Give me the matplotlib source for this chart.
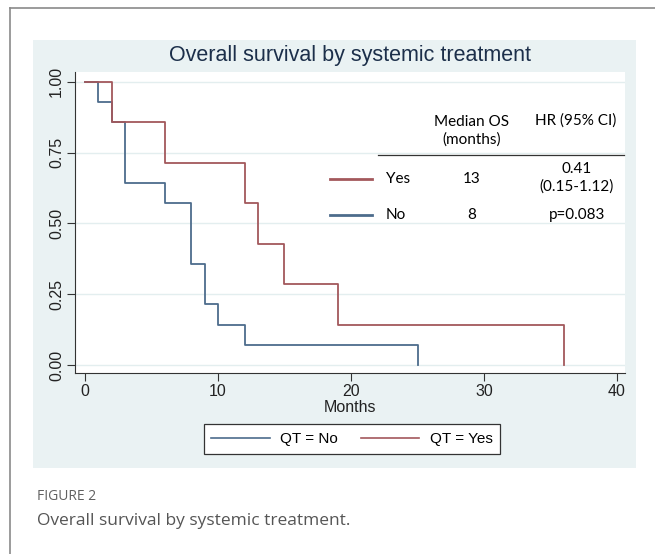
import matplotlib
matplotlib.use('Agg')
import matplotlib.pyplot as plt
from matplotlib.patches import Rectangle
from matplotlib.lines import Line2D

# Kaplan-Meier step data
yes_months = [0, 2, 6, 12, 13, 15, 19, 36]
yes_surv = [1.0, 0.857, 0.714, 0.571, 0.429, 0.286, 0.143, 0.0]
no_months = [0, 1, 2, 3, 6, 8, 9, 10, 12, 25]
no_surv = [1.0, 0.929, 0.857, 0.643, 0.571, 0.357, 0.214, 0.143, 0.071, 0.0]

y_ticks = [0.0, 0.25, 0.5, 0.75, 1.0]
y_labels = ['0.00', '0.25', '0.50', '0.75', '1.00']
x_ticks = [0, 10, 20, 30, 40]

table_header = ['Median OS\n(months)', 'HR (95% CI)']
table_groups = ['Yes', 'No']
table_median = ['13', '8']
table_hr = ['0.41\n(0.15-1.12)', 'p=0.083']

red = '#a3585c'
blue = '#4d6c8c'
bg = '#eaf2f3'
W, H = 655, 554


def fx(px):
    return px / W


def fy(py):
    return 1 - py / H


fig = plt.figure(figsize=(6.55, 5.54), dpi=100)
plt.rcParams['font.family'] = ['Liberation Sans', 'DejaVu Sans']

# page frame and stata panel
fig.add_artist(Line2D([fx(10), fx(10)], [0, fy(8)], color='#8a8a8a', lw=1.2))
fig.add_artist(Line2D([fx(10), 1], [fy(8), fy(8)], color='#8a8a8a', lw=1.2))
fig.add_artist(Rectangle((fx(33), fy(468)), fx(636) - fx(33), fy(40) - fy(468),
                         transform=fig.transFigure, facecolor=bg, edgecolor='none', zorder=-5))

ax = fig.add_axes([fx(75), fy(373), fx(625) - fx(75), fy(72) - fy(373)])
ax.set_zorder(2)
ax.set_facecolor('white')
ax.step(no_months, no_surv, where='post', color=blue, lw=1.3)
ax.step(yes_months, yes_surv, where='post', color=red, lw=1.3)
ax.set_xlim(-0.75, 40.6)
ax.set_ylim(-0.028, 1.035)
for v in y_ticks:
    ax.axhline(v, color='#e3eeef', lw=1, zorder=0)
ax.set_yticks(y_ticks)
ax.set_yticklabels(y_labels, rotation=90, va='center', fontsize=11.5, color='#222222')
ax.set_xticks(x_ticks)
ax.set_xticklabels([str(t) for t in x_ticks], fontsize=11.5, color='#222222')
ax.tick_params(length=6, color='#333333', width=0.8, pad=2)
ax.spines['top'].set_visible(False)
ax.spines['right'].set_visible(False)
ax.spines['left'].set_color('#333333')
ax.spines['bottom'].set_color('#333333')
ax.set_xlabel('Months', fontsize=11.5, color='#222222', labelpad=1)

fig.text(fx(350), fy(56), 'Overall survival by systemic treatment', ha='center', va='center',
         fontsize=15.5, color='#1c2f4a')

# inset table
tfont = ['Lato', 'DejaVu Sans']
fs = 11
fig.add_artist(Line2D([fx(378), fx(624)], [fy(155), fy(155)], color='#333333', lw=0.9, zorder=5))
fig.text(fx(472), fy(131), table_header[0], ha='center', va='center', fontsize=fs,
         family=tfont, linespacing=1.25, zorder=5)
fig.text(fx(576), fy(121), table_header[1], ha='center', va='center', fontsize=fs,
         family=tfont, zorder=5)
row_y = [179, 215]
row_col = [red, blue]
for i in range(2):
    fig.add_artist(Line2D([fx(330), fx(372)], [fy(row_y[i]), fy(row_y[i])], color=row_col[i],
                          lw=2, zorder=5))
    fig.text(fx(386), fy(row_y[i]), table_groups[i], ha='left', va='center', fontsize=fs,
             family=tfont, zorder=5)
    fig.text(fx(472), fy(row_y[i]), table_median[i], ha='center', va='center', fontsize=fs,
             family=tfont, zorder=5)
hr_y = [178, 215]
fig.text(fx(577), fy(hr_y[0]), table_hr[0], ha='center', va='center', fontsize=fs,
         family=tfont, linespacing=1.35, zorder=5)
fig.text(fx(577), fy(hr_y[1]), table_hr[1], ha='center', va='center', fontsize=fs,
         family=tfont, zorder=5)

# bottom legend
handles = [Line2D([], [], color=blue, lw=1.2), Line2D([], [], color=red, lw=1.2)]
leg = fig.legend(handles, ['QT = No', 'QT = Yes'], loc='center', bbox_to_anchor=(fx(352), fy(439)),
                 ncol=2, fontsize=11, frameon=True, fancybox=False, handlelength=3.8,
                 columnspacing=1.5, borderpad=0.5, handletextpad=0.7)
leg.get_frame().set_edgecolor('#333333')
leg.get_frame().set_linewidth(0.9)
leg.get_frame().set_facecolor('white')
leg.get_frame().set_alpha(1)

# caption
fig.text(fx(37), fy(497), 'FIGURE 2', ha='left', va='center', fontsize=10, color='#606060',
         family=['Open Sans', 'DejaVu Sans'])
fig.text(fx(37), fy(521), 'Overall survival by systemic treatment.', ha='left', va='center',
         fontsize=12.5, color='#555555', family=['Open Sans', 'DejaVu Sans'])

fig.savefig('out.png', dpi=100)
